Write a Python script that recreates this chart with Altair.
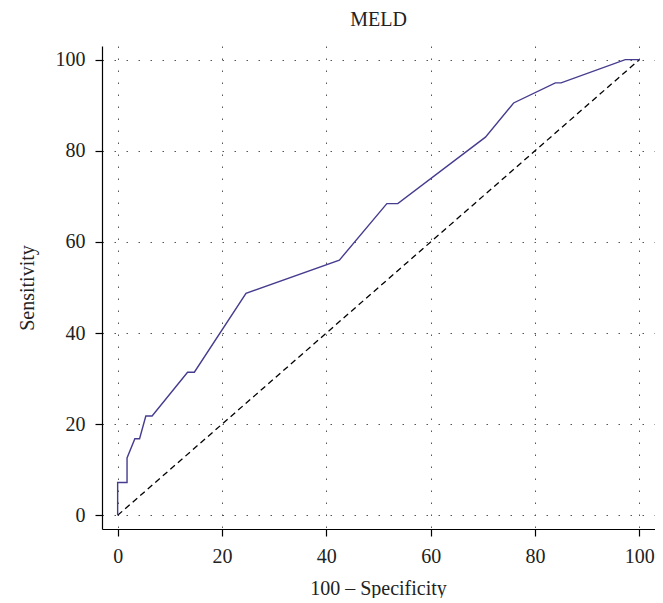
import altair as alt
import pandas as pd

# ROC curve (100 - Specificity vs Sensitivity)
fpr = [0, 0, 1.8, 1.8, 3.3, 4.2, 5.4, 6.6, 13.4, 14.7, 24.6, 42.5, 51.6, 53.7, 70.5, 75.9, 83.9, 85.0, 97.3, 100]
tpr = [0, 7.2, 7.2, 12.6, 16.8, 16.8, 21.8, 21.8, 31.4, 31.4, 48.7, 56.0, 68.4, 68.4, 83.0, 90.5, 94.9, 94.9, 100, 100]

diag_x = [0, 100]
diag_y = [0, 100]

tick_values = [0, 20, 40, 60, 80, 100]

roc = pd.DataFrame({"fpr": fpr, "tpr": tpr, "order": list(range(len(fpr)))})
diag = pd.DataFrame({"fpr": diag_x, "tpr": diag_y})

FONT = "Liberation Serif"

xscale = alt.Scale(domain=[-3, 103], nice=False, zero=False)
yscale = alt.Scale(domain=[-3, 103], nice=False, zero=False)

xaxis = alt.Axis(values=tick_values, title="100 – Specificity", labelPadding=10,
                 titleX=276, titleY=65, titleBaseline="alphabetic", titleAlign="center")
yaxis = alt.Axis(values=tick_values, title="Sensitivity", labelPadding=10,
                 titleX=-69, titleY=241.5, titleBaseline="alphabetic", titleAlign="center", titleAngle=270)

diag_layer = alt.Chart(diag).mark_line(color="black", strokeDash=[6, 4], strokeWidth=1.3).encode(
    x=alt.X("fpr:Q", scale=xscale, axis=xaxis),
    y=alt.Y("tpr:Q", scale=yscale, axis=yaxis),
)

roc_layer = alt.Chart(roc).mark_line(color="#463c8f", strokeWidth=1.4).encode(
    x=alt.X("fpr:Q", scale=xscale, axis=xaxis),
    y=alt.Y("tpr:Q", scale=yscale, axis=yaxis),
    order="order:Q",
)

chart = alt.layer(diag_layer, roc_layer).properties(
    width=553,
    height=483,
    title=alt.TitleParams("MELD", font=FONT, fontSize=20, fontWeight="normal", color="#222",
                          anchor="middle", offset=16),
    autosize=alt.AutoSizeParams(type="none"),
    padding={"left": 94, "top": 38, "right": 0, "bottom": 69},
).configure_view(stroke=None).configure_axis(
    domainColor="black", domainWidth=1.2,
    tickColor="black", tickWidth=1.2, tickSize=7,
    labelFont=FONT, labelFontSize=20, labelColor="#222",
    titleFont=FONT, titleFontSize=20, titleFontWeight="normal", titleColor="#222",
    grid=True, gridColor="#555", gridDash=[1.5, 10.5], gridWidth=1,
)

chart.save("out.html", embed_options={"renderer": "svg", "actions": False})
